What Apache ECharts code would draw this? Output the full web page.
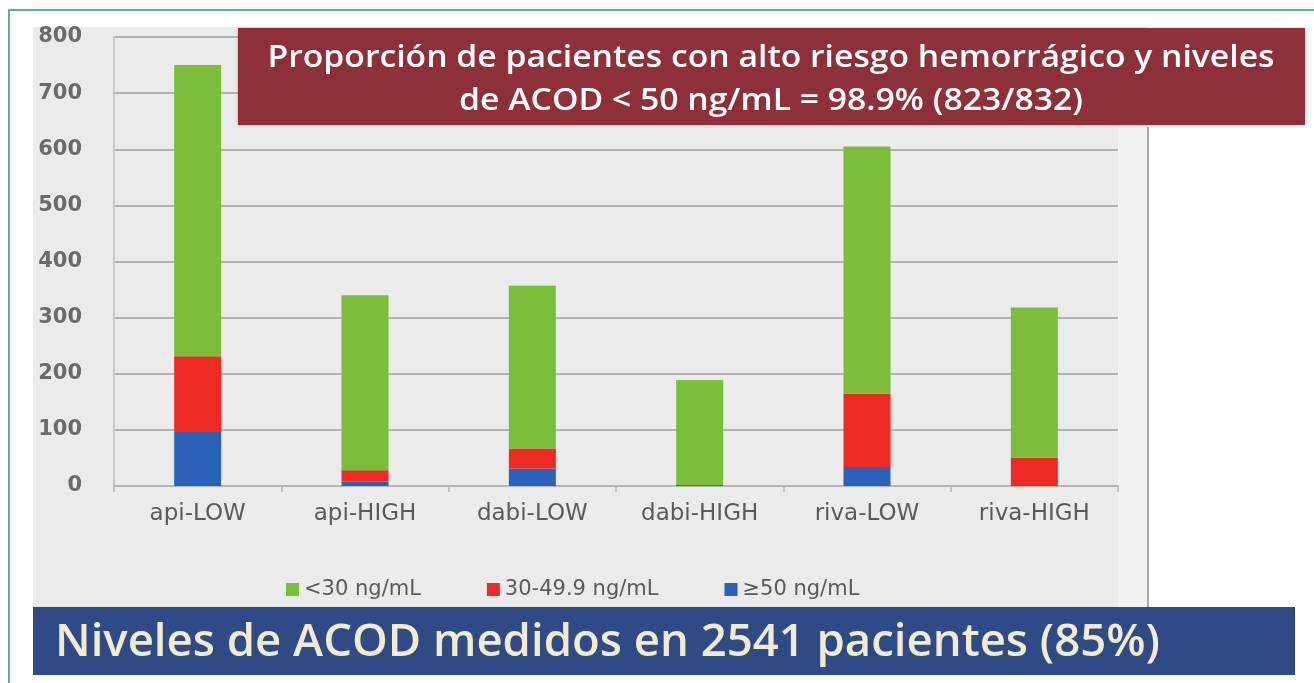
<!DOCTYPE html>
<html>
<head>
<meta charset="utf-8">
<script src="https://cdn.jsdelivr.net/npm/echarts@6/dist/echarts.min.js"></script>
<style>
html,body{margin:0;padding:0;background:#fff;}
#c{width:1314px;height:683px;}
</style>
</head>
<body>
<div id="c"></div>
<script>
const categories = ['api-LOW','api-HIGH','dabi-LOW','dabi-HIGH','riva-LOW','riva-HIGH'];
const seriesNames = ['<30 ng/mL','30-49.9 ng/mL','≥50 ng/mL'];
const below30 = [519, 312, 290, 187, 440, 267];
const between30and50 = [135, 20, 36, 2, 131, 49];
const above50 = [96, 8, 31, 0, 34, 2];
const yTicks = [0, 100, 200, 300, 400, 500, 600, 700, 800];
const titleLines = ['Proporción de pacientes con alto riesgo hemorrágico y niveles', 'de ACOD < 50 ng/mL = 98.9% (823/832)'];
const bannerText = 'Niveles de ACOD medidos en 2541 pacientes (85%)';

const SANS = '"Open Sans", Lato, sans-serif';
const WIDE = '"DejaVu Sans", sans-serif';
const titleFont = '600 31px ' + SANS;
const bannerFont = '600 46px ' + SANS;

const ctx = document.createElement('canvas').getContext('2d');
function measure(text, font) { ctx.font = font; return ctx.measureText(text).width; }
const titleScale = 1007 / measure(titleLines[0], titleFont);
const bannerScale = 1105 / measure(bannerText, bannerFont);

const chart = echarts.init(document.getElementById('c'));
const option = {
  animation: false,
  backgroundColor: '#ffffff',
  graphic: [
    { type: 'rect', z: -10, silent: true, shape: { x: 9, y: 10, width: 1310, height: 680 }, style: { fill: '#ffffff', stroke: '#2a9090', lineWidth: 1.5 } },
    { type: 'rect', z: -9, silent: true, shape: { x: 33, y: 27, width: 1115, height: 580 }, style: { fill: '#ebebeb' } },
    { type: 'rect', z: -8, silent: true, shape: { x: 1118, y: 127, width: 30, height: 480 }, style: { fill: '#f3f3f3' } },
    { type: 'line', z: -7, silent: true, shape: { x1: 1148, y1: 127, x2: 1148, y2: 607 }, style: { stroke: '#a8a8a8', lineWidth: 2 } },
    { type: 'rect', z: 20, silent: true, shape: { x: 238, y: 28, width: 1067, height: 97 }, style: { fill: '#8e3039', shadowBlur: 3, shadowColor: 'rgba(0,0,0,0.25)' } },
    { type: 'text', z: 21, silent: true, x: 771, y: 58, scaleX: titleScale, style: { text: titleLines[0], fill: '#ffffff', font: titleFont, align: 'center', verticalAlign: 'middle' } },
    { type: 'text', z: 21, silent: true, x: 771, y: 101, scaleX: titleScale, style: { text: titleLines[1], fill: '#ffffff', font: titleFont, align: 'center', verticalAlign: 'middle' } },
    { type: 'rect', z: 20, silent: true, shape: { x: 33, y: 607, width: 1262, height: 68 }, style: { fill: '#2f4a84' } },
    { type: 'text', z: 21, silent: true, x: 55, y: 643, scaleX: bannerScale, style: { text: bannerText, fill: '#f1ebd2', font: bannerFont, align: 'left', verticalAlign: 'middle' } }
  ],
  legend: {
    data: seriesNames,
    left: 281,
    top: 574,
    itemWidth: 13,
    itemHeight: 13,
    itemGap: 66,
    icon: 'rect',
    textStyle: { fontFamily: WIDE, fontSize: 21, color: '#5a5a5a' }
  },
  grid: { left: 114, right: 196, top: 37, bottom: 197, containLabel: false },
  xAxis: {
    type: 'category',
    data: categories,
    axisLine: { lineStyle: { color: '#b5b5b5', width: 2 } },
    axisTick: { show: true, length: 6, lineStyle: { color: '#b5b5b5', width: 1.5 } },
    axisLabel: { fontFamily: WIDE, fontSize: 23, color: '#5a5a5a', margin: 17 }
  },
  yAxis: {
    type: 'value',
    min: 0, max: 800, interval: 100,
    axisLine: { show: true, lineStyle: { color: '#c8c8c8', width: 2 } },
    axisTick: { show: false },
    splitLine: { lineStyle: { color: '#b3b3b3', width: 2 } },
    axisLabel: { fontFamily: WIDE, fontSize: 21, fontWeight: 'bold', color: '#6a6a6a', margin: 32,
      formatter: v => yTicks.indexOf(v) >= 0 ? String(v) : '' }
  },
  series: [
    { name: seriesNames[2], type: 'bar', stack: 'a', data: above50, barWidth: 47, itemStyle: { color: '#2a62b8' } },
    { name: seriesNames[1], type: 'bar', stack: 'a', data: between30and50, barWidth: 47, itemStyle: { color: '#ee2a24' } },
    { name: seriesNames[0], type: 'bar', stack: 'a', data: below30, barWidth: 47, itemStyle: { color: '#7cbd3b' } }
  ]
};
chart.setOption(option);
</script>
</body>
</html>
